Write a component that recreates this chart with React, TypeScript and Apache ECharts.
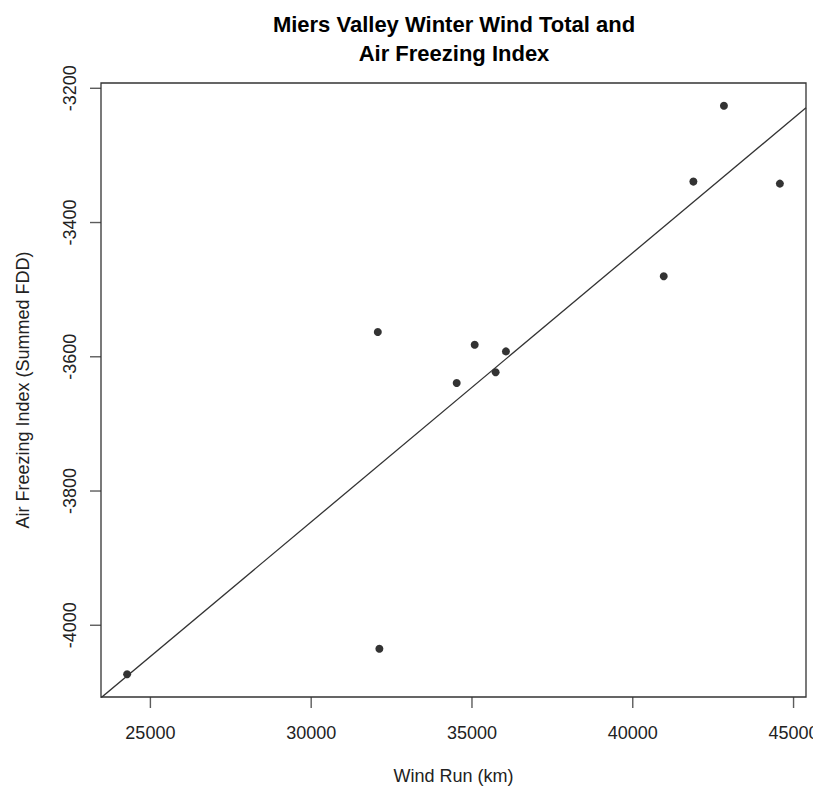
import React, { useEffect, useRef } from "react";
import * as echarts from "echarts";

const windRun = [24276, 32121, 32071, 34525, 35084, 35736, 36056, 40963, 41885, 42835, 44575];
const airFreezing = [-4073, -4035, -3563, -3639, -3582, -3623, -3592, -3480, -3339, -3226, -3342];
const xTicks = [25000, 30000, 35000, 40000, 45000];
const yTicks = [-4000, -3800, -3600, -3400, -3200];

const titleLines = ["Miers Valley Winter Wind Total and", "Air Freezing Index"];
const xTitle = "Wind Run (km)";
const yTitle = "Air Freezing Index (Summed FDD)";

const FONT = '"Liberation Sans", Arial, Helvetica, sans-serif';

function extendRange(vals: number[]) {
  const lo = Math.min(...vals);
  const hi = Math.max(...vals);
  const pad = (hi - lo) * 0.04;
  return [lo - pad, hi + pad];
}

function linearFit(xs: number[], ys: number[]) {
  const n = xs.length;
  const mx = xs.reduce((a, b) => a + b, 0) / n;
  const my = ys.reduce((a, b) => a + b, 0) / n;
  let sxy = 0;
  let sxx = 0;
  for (let i = 0; i < n; i++) {
    sxy += (xs[i] - mx) * (ys[i] - my);
    sxx += (xs[i] - mx) * (xs[i] - mx);
  }
  const slope = sxy / sxx;
  return { slope, intercept: my - slope * mx };
}

export default function App() {
  const ref = useRef<HTMLDivElement>(null);
  useEffect(() => {
    if (!ref.current) return;
    const chart = echarts.init(ref.current, null, { renderer: "svg" });
    const [xMin, xMax] = extendRange(windRun);
    const [yMin, yMax] = extendRange(airFreezing);
    const fit = linearFit(windRun, airFreezing);
    const gridLeft = 101;
    const gridRight = 7;
    const gridTop = 83;
    const gridBottom = 92;
    const plotCx = gridLeft + (813 - gridLeft - gridRight) / 2;
    const plotCy = gridTop + (789 - gridTop - gridBottom) / 2;
    const lineCol = "#333";
    const tickLen = 11;
    const tickW = 1.4;

    chart.setOption({
      animation: false,
      backgroundColor: "#ffffff",
      grid: {
        left: gridLeft,
        right: gridRight,
        top: gridTop,
        bottom: gridBottom,
        show: true,
        borderColor: lineCol,
        borderWidth: 1.3,
        containLabel: false,
        outerBoundsMode: "none",
      },
      xAxis: {
        type: "value",
        min: xMin,
        max: xMax,
        axisLine: { show: false, onZero: false },
        splitLine: { show: false },
        axisTick: { show: false },
        axisLabel: {
          customValues: xTicks,
          formatter: (v: number) => String(v),
          fontSize: 18,
          color: "#222",
          fontFamily: FONT,
          margin: 27,
          showMinLabel: true,
          showMaxLabel: true,
          hideOverlap: false,
        },
      },
      yAxis: {
        type: "value",
        min: yMin,
        max: yMax,
        axisLine: { show: false, onZero: false },
        splitLine: { show: false },
        axisTick: { show: false },
        axisLabel: {
          customValues: yTicks,
          formatter: (v: number) => String(v),
          rotate: 90,
          fontSize: 18,
          color: "#222",
          fontFamily: FONT,
          margin: 22,
          showMinLabel: true,
          showMaxLabel: true,
          hideOverlap: false,
        },
      },
      graphic: [
        ...titleLines.map((t, i) => ({
          type: "text",
          x: 454,
          y: 24 + i * 29,
          style: {
            text: t,
            font: `bold 22px ${FONT}`,
            fill: "#000",
            textAlign: "center",
            textVerticalAlign: "middle",
          },
        })),
        {
          type: "text",
          x: plotCx,
          y: 776,
          style: {
            text: xTitle,
            font: `18px ${FONT}`,
            fill: "#222",
            textAlign: "center",
            textVerticalAlign: "middle",
          },
        },
        {
          type: "text",
          x: 23,
          y: plotCy,
          rotation: Math.PI / 2,
          style: {
            text: yTitle,
            font: `18px ${FONT}`,
            fill: "#222",
            textAlign: "center",
            textVerticalAlign: "middle",
          },
        },
      ],
      series: [
        {
          type: "scatter",
          silent: true,
          clip: false,
          data: xTicks.map((v) => [v, yMin]),
          symbol: "rect",
          symbolSize: [tickW, tickLen],
          symbolOffset: [0, tickLen / 2],
          itemStyle: { color: lineCol },
        },
        {
          type: "scatter",
          silent: true,
          clip: false,
          data: yTicks.map((v) => [xMin, v]),
          symbol: "rect",
          symbolSize: [tickLen, tickW],
          symbolOffset: [-tickLen / 2, 0],
          itemStyle: { color: lineCol },
        },
        {
          type: "line",
          data: [
            [xMin, fit.intercept + fit.slope * xMin],
            [xMax, fit.intercept + fit.slope * xMax],
          ],
          showSymbol: false,
          symbol: "none",
          clip: true,
          silent: true,
          lineStyle: { color: lineCol, width: 1.3 },
        },
        {
          type: "scatter",
          data: windRun.map((x, i) => [x, airFreezing[i]]),
          symbol: "circle",
          symbolSize: 8,
          itemStyle: { color: "#000" },
        },
      ],
    });

    return () => chart.dispose();
  }, []);
  return (
    <div
      ref={ref}
      style={{ position: "absolute", left: 0, top: 0, width: 813, height: 789 }}
    />
  );
}
